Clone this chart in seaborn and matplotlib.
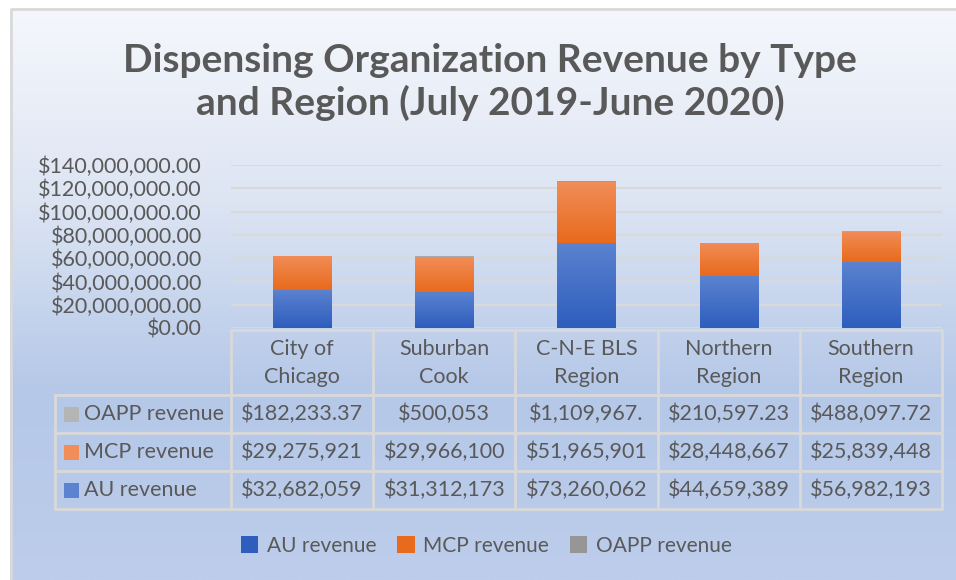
import numpy as np
import pandas as pd
import matplotlib
matplotlib.use("Agg")
import matplotlib.pyplot as plt
import matplotlib.colors as mcolors
from matplotlib.patches import Patch, Rectangle
from matplotlib.ticker import FuncFormatter
import seaborn as sns

# DATA
regions = ["City of\nChicago", "Suburban\nCook", "C-N-E BLS\nRegion", "Northern\nRegion", "Southern\nRegion"]
au_revenue = [32682059, 31312173, 73260062, 44659389, 56982193]
mcp_revenue = [29275921, 29966100, 51965901, 28448667, 25839448]
oapp_revenue = [182233.37, 500053, 1109967, 210597.23, 488097.72]
au_labels = ["$32,682,059", "$31,312,173", "$73,260,062", "$44,659,389", "$56,982,193"]
mcp_labels = ["$29,275,921", "$29,966,100", "$51,965,901", "$28,448,667", "$25,839,448"]
oapp_labels = ["$182,233.37", "$500,053", "$1,109,967.", "$210,597.23", "$488,097.72"]
series = ["AU revenue", "MCP revenue", "OAPP revenue"]
y_ticks = [0, 20e6, 40e6, 60e6, 80e6, 100e6, 120e6, 140e6]

# CONFIG
sns.set_theme(style="white")
plt.rcParams["font.family"] = ["Lato", "DejaVu Sans"]
TXT = "#595959"
GRID = "#d9d9d9"
colors = {"AU revenue": ("#5b83d0", "#2e5dbd"),
          "MCP revenue": ("#f18d58", "#e86a1c"),
          "OAPP revenue": ("#b5b5b5", "#969696")}

df = pd.DataFrame({"region": regions, "AU revenue": au_revenue,
                   "MCP revenue": mcp_revenue, "OAPP revenue": oapp_revenue})

W, H = 956, 580
fig = plt.figure(figsize=(W / 100, H / 100), dpi=100)

# background with vertical gradient + border
bg = fig.add_axes([0, 0, 1, 1], zorder=-5)
grad = np.linspace(0, 1, 256).reshape(-1, 1)
bg_cmap = mcolors.LinearSegmentedColormap.from_list("bg", ["#f5f7fc", "#dde5f3", "#b5c8e8", "#bdcdeb"])
bg.imshow(grad, aspect="auto", cmap=bg_cmap, extent=[10 / W, 1, 0, 1 - 9 / H])
bg.plot([10.5 / W, 10.5 / W, 1], [0, 1 - 8.5 / H, 1 - 8.5 / H], color="#d9d9d9", lw=2)
bg.set_xlim(0, 1)
bg.set_ylim(0, 1)
bg.axis("off")

# main axes
ax = fig.add_axes([231 / W, (H - 328) / H, 711 / W, 163 / H])
ax.patch.set_alpha(0)
bottom = np.zeros(len(regions))
for s in series:
    sns.barplot(data=df, x="region", y=s, bottom=bottom, width=0.41,
                color=colors[s][1], ax=ax, zorder=3, linewidth=0, edgecolor="none")
    bottom = bottom + df[s].values

# gradient fill for each bar
for i, bar in enumerate(ax.patches):
    s = series[i // len(regions)]
    x0, y0 = bar.get_x(), bar.get_y()
    w, h = bar.get_width(), bar.get_height()
    cm = mcolors.LinearSegmentedColormap.from_list("g", [colors[s][1], colors[s][0]])
    im = ax.imshow(grad, aspect="auto", cmap=cm, origin="lower",
                   extent=[x0, x0 + w, y0, y0 + h], zorder=4)
    im.set_clip_path(bar)

ax.set_xlim(-0.5, 4.5)
ax.set_ylim(0, 140e6)
ax.set_yticks(y_ticks)
ax.yaxis.set_major_formatter(FuncFormatter(lambda v, p: f"${v:,.2f}"))
ax.tick_params(axis="y", labelsize=15.5, labelcolor=TXT, length=0, pad=21)
ax.set_xticks([])
ax.set_xlabel("")
ax.set_ylabel("")
ax.yaxis.grid(True, color=GRID, lw=1.5, zorder=0)
for sp in ax.spines.values():
    sp.set_visible(False)

# data table under the axes (x in data units, y in figure pixels)
def fy(px):
    return 1 - px / H

def dx(px):
    return ax.transData.inverted().transform((px, 0))[0]

tr = matplotlib.transforms.blended_transform_factory(ax.transData, fig.transFigure)
x_left_lbl = dx(55)
row_lines = [330, 395, 433, 471, 509]
for k, yl in enumerate(row_lines):
    x_start = -0.5 if k == 0 else x_left_lbl
    ax.plot([x_start, 4.5], [fy(yl)] * 2, transform=tr, color=GRID, lw=2, clip_on=False)
for c in range(len(regions) + 1):
    ax.plot([c - 0.5] * 2, [fy(330), fy(509)], transform=tr, color=GRID, lw=2, clip_on=False)
ax.plot([x_left_lbl] * 2, [fy(395), fy(509)], transform=tr, color=GRID, lw=2, clip_on=False)

for i, r in enumerate(regions):
    ax.text(i, fy(363), r, transform=tr, ha="center", va="center", fontsize=15.5,
            color=TXT, linespacing=1.55)
rows = [("OAPP revenue", oapp_labels, 414), ("MCP revenue", mcp_labels, 452),
        ("AU revenue", au_labels, 490)]
sq_w = dx(79) - dx(64)
for name, labels, yc in rows:
    for i, lab in enumerate(labels):
        ax.text(i, fy(yc), lab, transform=tr, ha="center", va="center",
                fontsize=15.5, color=TXT)
    sq = Rectangle((dx(64), fy(yc + 7.5)), sq_w, 15 / H, transform=tr,
                   facecolor=colors[name][0], edgecolor="none", clip_on=False)
    ax.add_patch(sq)
    ax.text(dx(84), fy(yc), name, transform=tr, ha="left", va="center",
            fontsize=15.5, color=TXT)

# title
fig.text(490 / W, fy(82), "Dispensing Organization Revenue by Type\nand Region (July 2019-June 2020)",
         ha="center", va="center", fontsize=28, fontweight="bold", color=TXT, linespacing=1.22)

# legend
handles = [Patch(facecolor=colors[s][1], edgecolor="none") for s in series]
leg = fig.legend(handles, series, loc="center", bbox_to_anchor=(486 / W, fy(546)), ncol=3,
                 frameon=False, fontsize=15, handlelength=0.85, handleheight=0.85,
                 handletextpad=0.4, columnspacing=1.0)
for t in leg.get_texts():
    t.set_color(TXT)

fig.savefig("out.png", dpi=100)
